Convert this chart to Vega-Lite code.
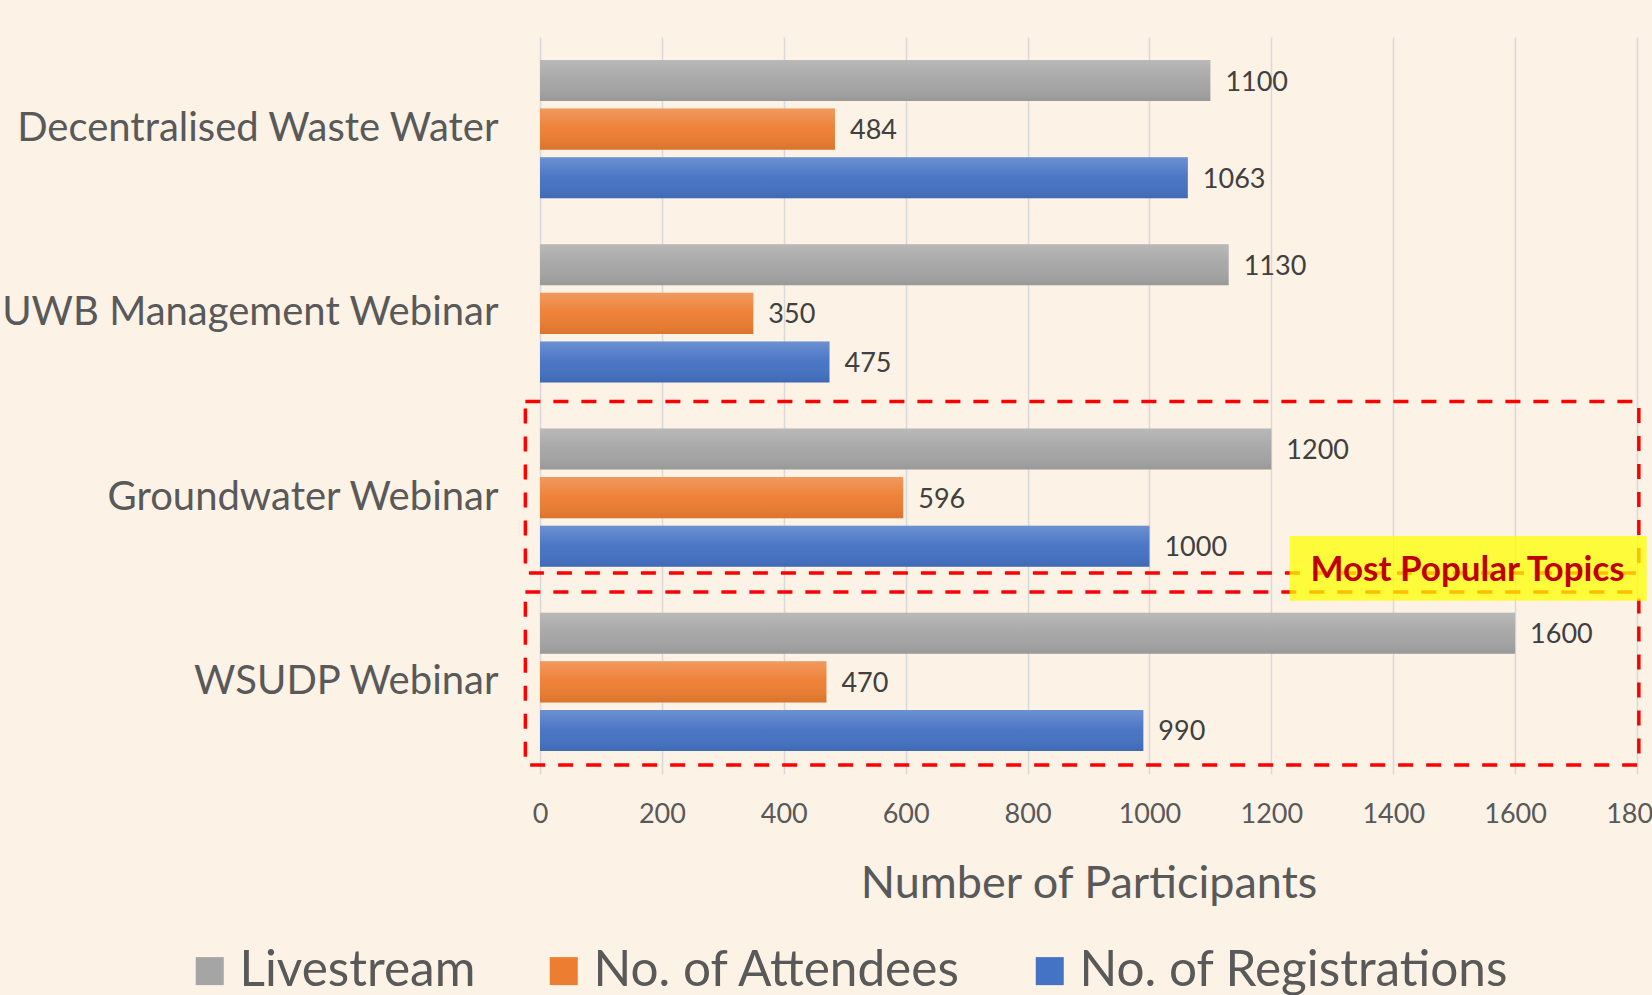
{
  "$schema": "https://vega.github.io/schema/vega-lite/v6.json",
  "width": 1097,
  "height": 737,
  "autosize": {"type": "none"},
  "padding": {"left": 540, "top": 37, "right": 15, "bottom": 221},
  "background": "#fcf2e6",
  "config": {"view": {"stroke": null}, "font": "Lato"},
  "layer": [
    {
      "data": {
        "values": [
          {"topic": "Decentralised Waste Water", "series": "Livestream", "value": 1100},
          {"topic": "Decentralised Waste Water", "series": "No. of Attendees", "value": 484},
          {"topic": "Decentralised Waste Water", "series": "No. of Registrations", "value": 1063},
          {"topic": "UWB Management Webinar", "series": "Livestream", "value": 1130},
          {"topic": "UWB Management Webinar", "series": "No. of Attendees", "value": 350},
          {"topic": "UWB Management Webinar", "series": "No. of Registrations", "value": 475},
          {"topic": "Groundwater Webinar", "series": "Livestream", "value": 1200},
          {"topic": "Groundwater Webinar", "series": "No. of Attendees", "value": 596},
          {"topic": "Groundwater Webinar", "series": "No. of Registrations", "value": 1000},
          {"topic": "WSUDP Webinar", "series": "Livestream", "value": 1600},
          {"topic": "WSUDP Webinar", "series": "No. of Attendees", "value": 470},
          {"topic": "WSUDP Webinar", "series": "No. of Registrations", "value": 990}
        ]
      },
      "encoding": {
        "y": {
          "field": "topic",
          "type": "nominal",
          "scale": {
            "domain": ["Decentralised Waste Water", "UWB Management Webinar", "Groundwater Webinar", "WSUDP Webinar"],
            "paddingInner": 0.25,
            "paddingOuter": 0.125
          },
          "axis": {
            "title": null,
            "domain": false,
            "ticks": false,
            "labelFontSize": 40,
            "labelColor": "#595959",
            "labelPadding": 42,
            "labelLimit": 700
          }
        },
        "yOffset": {
          "field": "series",
          "type": "nominal",
          "scale": {
            "domain": ["Livestream", "No. of Attendees", "No. of Registrations"],
            "paddingInner": 0.155,
            "paddingOuter": 0
          }
        },
        "x": {
          "field": "value",
          "type": "quantitative",
          "scale": {"domain": [0, 1800], "nice": false},
          "axis": {
            "title": "Number of Participants",
            "values": [0, 200, 400, 600, 800, 1000, 1200, 1400, 1600, 1800],
            "format": "d",
            "grid": true,
            "gridColor": "#d9d9d9",
            "gridWidth": 1.5,
            "domain": false,
            "ticks": false,
            "labelFontSize": 27,
            "labelColor": "#595959",
            "labelPadding": 27,
            "labelFlush": false,
            "labelOverlap": false,
            "titleFontSize": 45,
            "titleFontWeight": "normal",
            "titleColor": "#595959",
            "titlePadding": 34
          }
        }
      },
      "layer": [
        {
          "mark": {"type": "bar"},
          "encoding": {
            "color": {
              "field": "series",
              "type": "nominal",
              "scale": {
                "domain": ["Livestream", "No. of Attendees", "No. of Registrations"],
                "range": ["#a5a5a5", "#ed7d31", "#4472c4"]
              },
              "legend": {
                "title": null,
                "orient": "none",
                "direction": "horizontal",
                "legendX": -355,
                "legendY": 909,
                "symbolType": "square",
                "symbolSize": 784,
                "symbolStrokeWidth": 0,
                "symbolOpacity": 1,
                "labelFontSize": 49.5,
                "labelColor": "#595959",
                "labelOffset": 5,
                "columnPadding": 63,
                "labelLimit": 600
              }
            }
          }
        },
        {
          "mark": {
            "type": "bar",
            "fill": {
              "gradient": "linear",
              "x1": 0, "y1": 0, "x2": 0, "y2": 1,
              "stops": [
                {"offset": 0, "color": "rgba(255,255,255,0.22)"},
                {"offset": 0.5, "color": "rgba(255,255,255,0.03)"},
                {"offset": 1, "color": "rgba(0,0,0,0.08)"}
              ]
            }
          }
        },
        {
          "mark": {"type": "text", "align": "left", "baseline": "middle", "dx": 15, "dy": 2, "fontSize": 27, "color": "#404040"},
          "encoding": {"text": {"field": "value", "type": "quantitative", "format": "d"}}
        }
      ]
    },
    {
      "data": {"values": [{"topic": "Groundwater Webinar"}]},
      "mark": {"type": "rect", "fill": null, "fillOpacity": 0, "stroke": "#ff0000", "strokeWidth": 3.5, "strokeDash": [15, 13]},
      "encoding": {
        "y": {"field": "topic", "type": "nominal", "bandPosition": -0.196},
        "y2": {"field": "topic", "bandPosition": 1.046},
        "x": {"datum": -24, "type": "quantitative"},
        "x2": {"datum": 1803}
      }
    },
    {
      "data": {"values": [{"topic": "WSUDP Webinar"}]},
      "mark": {"type": "rect", "fill": null, "fillOpacity": 0, "stroke": "#ff0000", "strokeWidth": 3.5, "strokeDash": [15, 13]},
      "encoding": {
        "y": {"field": "topic", "type": "nominal", "bandPosition": -0.15},
        "y2": {"field": "topic", "bandPosition": 1.101},
        "x": {"datum": -24, "type": "quantitative"},
        "x2": {"datum": 1803}
      }
    },
    {
      "data": {"values": [{"topic": "Groundwater Webinar", "note": "Most Popular Topics"}]},
      "layer": [
        {
          "mark": {"type": "rect", "fill": "#ffff00", "fillOpacity": 0.75},
          "encoding": {
            "y": {"field": "topic", "type": "nominal", "bandPosition": 0.778},
            "y2": {"field": "topic", "bandPosition": 1.246},
            "x": {"datum": 1230, "type": "quantitative"},
            "x2": {"datum": 1816}
          }
        },
        {
          "mark": {"type": "text", "align": "center", "baseline": "middle", "fontSize": 35, "fontWeight": "bold", "color": "#c00000"},
          "encoding": {
            "y": {"field": "topic", "type": "nominal", "bandPosition": 1.025},
            "x": {"datum": 1522, "type": "quantitative"},
            "text": {"field": "note", "type": "nominal"}
          }
        }
      ]
    }
  ]
}
